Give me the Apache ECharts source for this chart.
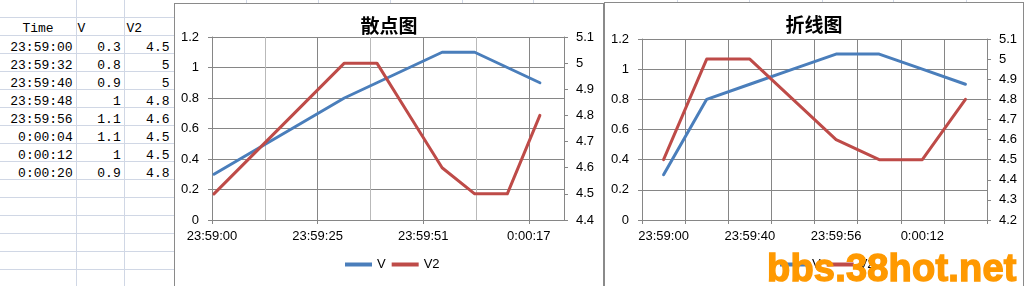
<!DOCTYPE html>
<html><head><meta charset="utf-8">
<script src="https://cdn.jsdelivr.net/npm/echarts@6/dist/echarts.min.js"></script>
<style>
html,body{margin:0;padding:0;width:1025px;height:286px;overflow:hidden;background:#fff;}
.gl{position:absolute;background:#d0d7e5;}
.cell{position:absolute;font-family:'Liberation Mono','DejaVu Sans Mono',monospace;font-size:13px;color:#000;height:18px;line-height:18px;white-space:pre;}
.frame{position:absolute;background:#fff;border:1px solid #8a8a8a;box-sizing:border-box;}
#chart{position:absolute;left:0;top:0;width:1025px;height:286px;}
#wm{position:absolute;left:767px;top:249px;font-family:'Liberation Sans',Arial,sans-serif;font-weight:bold;font-size:38px;line-height:38px;color:#ff9900;white-space:nowrap;letter-spacing:0.2px;-webkit-text-stroke:1.4px #ff9900;}
</style></head><body>
<div id="sheet"></div>
<div class="frame" style="left:174px;top:3px;width:430px;height:300px;"></div>
<div class="frame" style="left:604px;top:2px;width:420px;height:300px;"></div>
<div id="chart"></div>
<div id="wm">bbs.38hot.net</div>
<script>
// ---- data ----
const headers = ['Time', 'V', 'V2'];
const times = ['23:59:00','23:59:32','23:59:40','23:59:48','23:59:56','0:00:04','0:00:12','0:00:20'];
const vValues = [0.3, 0.8, 0.9, 1, 1.1, 1.1, 1, 0.9];
const v2Values = [4.5, 5, 5, 4.8, 4.6, 4.5, 4.5, 4.8];
const scatterXTickLabels = ['23:59:00','23:59:25','23:59:51','0:00:17'];
const chartTitles = ['散点图', '折线图'];
const seriesNames = ['V', 'V2'];

// ---- spreadsheet ----
const sheet = document.getElementById('sheet');
function addDiv(cls, style, text) {
  const d = document.createElement('div');
  d.className = cls;
  Object.assign(d.style, style);
  if (text != null) d.textContent = text;
  sheet.appendChild(d);
}
for (let k = 0; k < 16; k++) addDiv('gl', {left:'0px', top:(17 + 18 * k) + 'px', width:'174px', height:'1px'});
[76, 124].forEach(x => addDiv('gl', {left:x + 'px', top:'0px', width:'1px', height:'286px'}));
[246, 318, 390, 462, 533, 677, 749, 822, 893, 966].forEach(x => addDiv('gl', {left:x + 'px', top:'0px', width:'1px', height:'3px'}));
addDiv('cell', {left:'0px', width:'76px', top:'20.3px', textAlign:'center'}, headers[0]);
addDiv('cell', {left:'77.5px', top:'20.3px'}, headers[1]);
addDiv('cell', {left:'126.5px', top:'20.3px'}, headers[2]);
times.forEach((t, i) => {
  const top = (38.5 + 18 * i) + 'px';
  addDiv('cell', {left:'0px', width:'72.7px', top, textAlign:'right'}, t);
  addDiv('cell', {left:'76px', width:'44.7px', top, textAlign:'right'}, String(vValues[i]));
  addDiv('cell', {left:'124px', width:'45.5px', top, textAlign:'right'}, String(v2Values[i]));
});

// ---- time conversion (with day rollover) ----
function toSec(s) { const p = s.split(':').map(Number); return p[0] * 3600 + p[1] * 60 + p[2]; }
let dayOff = 0, prev = -1;
const timeSec = times.map(t => { let v = toSec(t) + dayOff; if (v < prev) { dayOff += 86400; v += 86400; } prev = v; return v; });

// ---- chart ----
const blue = '#4a7ebb', red = '#be4b48';
const axisColor = '#868686';
const font = 'Liberation Sans, Arial, sans-serif';
const lbl = {color:'#000', fontSize:13, fontFamily:font};
const axLine = {show:true, onZero:false, lineStyle:{color:axisColor, width:1}};
const axTick = {show:true, length:4, lineStyle:{color:axisColor}};
const sMin = 86339.52, sMax = 86425.92; // 0.9993 .. 1.0003 days

function yAxisDef(grid, pos, min, max, interval, split, margin) {
  return {type:'value', gridIndex:grid, position:pos, min, max, interval,
    axisLine:axLine, axisTick:axTick, axisLabel:Object.assign({margin}, lbl),
    splitLine:{show:split, lineStyle:{color:axisColor, width:1}}};
}
function lineSeries(name, xi, yi, data, color) {
  return {name, type:'line', xAxisIndex:xi, yAxisIndex:yi, data, symbol:'none', showSymbol:false,
    lineStyle:{width:3, color, cap:'round', join:'round'}, itemStyle:{color}, animation:false};
}
const legendDef = left => ({data:seriesNames, left, top:258, padding:0, orient:'horizontal',
  icon:'rect', itemWidth:27, itemHeight:4, itemGap:6, textStyle:lbl, selectedMode:false});

const chart = echarts.init(document.getElementById('chart'), null, {renderer:'canvas'});
chart.setOption({
  animation:false,
  backgroundColor:'transparent',
  grid:[
    {left:212, top:37, width:352, height:183, outerBoundsMode:'none'},
    {left:642, top:39, width:345, height:181, outerBoundsMode:'none'}
  ],
  xAxis:[
    {type:'value', gridIndex:0, position:'bottom', min:sMin, max:sMax, interval:25.92,
      axisLine:axLine, axisTick:axTick,
      axisLabel:Object.assign({margin:10, showMaxLabel:false, formatter:(v, i) => scatterXTickLabels[i] || ''}, lbl),
      splitLine:{show:false}},
    {type:'value', gridIndex:0, position:'top', min:sMin, max:sMax, interval:12.96,
      axisLine:{show:false}, axisTick:{show:false}, axisLabel:{show:false},
      splitLine:{show:true, lineStyle:{color:[axisColor, '#b9b9b9'], width:1}}},
    {type:'category', gridIndex:1, position:'bottom', data:times, boundaryGap:true,
      axisLine:axLine, axisTick:Object.assign({interval:0}, axTick),
      axisLabel:Object.assign({margin:10, interval:1}, lbl),
      splitLine:{show:true, interval:0, lineStyle:{color:axisColor, width:1}}}
  ],
  yAxis:[
    yAxisDef(0, 'left', 0, 1.2, 0.2, true, 13),
    yAxisDef(0, 'right', 4.4, 5.1, 0.1, false, 12),
    yAxisDef(1, 'left', 0, 1.2, 0.2, true, 13),
    yAxisDef(1, 'right', 4.2, 5.1, 0.1, false, 12)
  ],
  legend:[legendDef(345), legendDef(780)],
  graphic:[
    {type:'text', x:389, y:26, z:10, style:{text:chartTitles[0], fontFamily:'Noto Sans CJK SC', fontWeight:'bold', fontSize:19, fill:'#000', align:'center', verticalAlign:'middle'}},
    {type:'text', x:814, y:25, z:10, style:{text:chartTitles[1], fontFamily:'Noto Sans CJK SC', fontWeight:'bold', fontSize:19, fill:'#000', align:'center', verticalAlign:'middle'}}
  ],
  series:[
    lineSeries(seriesNames[0], 0, 0, timeSec.map((t, i) => [t, vValues[i]]), blue),
    lineSeries(seriesNames[1], 0, 1, timeSec.map((t, i) => [t, v2Values[i]]), red),
    lineSeries(seriesNames[0], 2, 2, vValues, blue),
    lineSeries(seriesNames[1], 2, 3, v2Values, red)
  ]
});
</script>
</body></html>
